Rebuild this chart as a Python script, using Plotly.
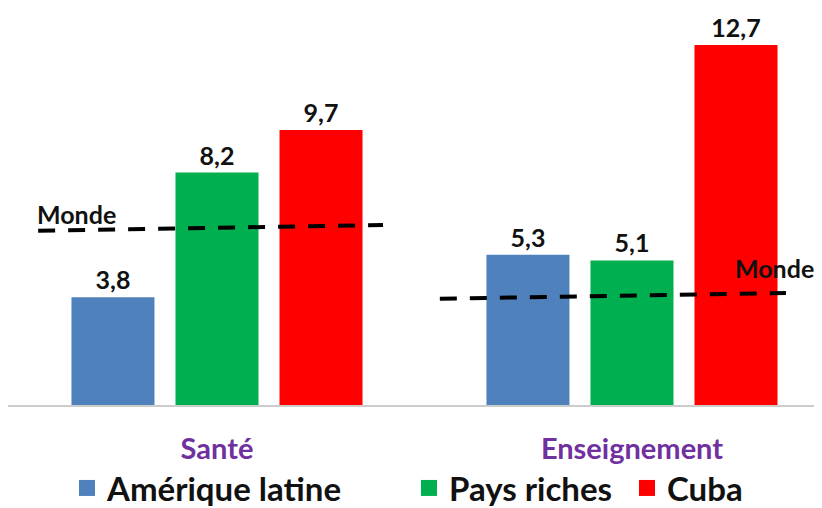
import plotly.graph_objects as go

categories = ["Santé", "Enseignement"]
series_names = ["Amérique latine", "Pays riches", "Cuba"]
amerique_latine = [3.8, 5.3]
pays_riches = [8.2, 5.1]
cuba = [9.7, 12.7]
# "Monde" reference lines (hand-drawn, slightly sloped): start / end values
monde_start = [6.15, 3.75]
monde_end = [6.35, 3.95]
monde_label = "Monde"

colors = ["#4F81BD", "#00B050", "#FF0000"]
FONT = "Lato"

def fr(v):
    return f"{v:.1f}".replace(".", ",")

fig = go.Figure()
xs = list(range(len(categories)))
legend_ids = ["legend", "legend2", "legend3"]
legend_x = [67, 409, 627]
for name, vals, col, lid in zip(series_names, [amerique_latine, pays_riches, cuba], colors, legend_ids):
    fig.add_trace(go.Bar(
        x=xs, y=vals, name=name, marker=dict(color=col, line=dict(width=0)),
        text=[fr(v) for v in vals], textposition="outside",
        textfont=dict(family=FONT, size=25, color="#111111", weight="bold"),
        cliponaxis=False, showlegend=False,
    ))
    fig.add_trace(go.Scatter(
        x=[None], y=[None], mode="markers", name=name, legend=lid,
        marker=dict(symbol="square", size=18, color=col),
    ))

# Monde dashed lines
half_left = [0.431, 0.463]
half_right = [0.400, 0.371]
for i in xs:
    fig.add_trace(go.Scatter(
        x=[i - half_left[i], i + half_right[i]], y=[monde_start[i], monde_end[i]],
        mode="lines", line=dict(color="black", width=4, dash="17px,13px"),
        showlegend=False, hoverinfo="skip",
    ))

fig.add_annotation(x=-0.4386, y=6.74, text=monde_label, showarrow=False, xanchor="left",
                   yanchor="middle", font=dict(family=FONT, size=25, color="#111111", weight="bold"))
fig.add_annotation(x=1.2434, y=4.83, text=monde_label, showarrow=False, xanchor="left",
                   yanchor="middle", font=dict(family=FONT, size=25, color="#111111", weight="bold"))

W, H = 822, 508
legend_common = dict(
    orientation="h", xref="container", yref="container", yanchor="middle", xanchor="left",
    y=20 / H, font=dict(family=FONT, size=33, color="#111111", weight="bold"),
    itemwidth=30, bgcolor="rgba(0,0,0,0)",
)
fig.update_layout(
    width=W, height=H,
    margin=dict(l=8, r=8, t=0, b=103),
    paper_bgcolor="white", plot_bgcolor="white",
    barmode="group", bargap=0.248, bargroupgap=0.202,
    xaxis=dict(
        tickmode="array", tickvals=xs, ticktext=categories,
        range=[-0.5036, 1.4386], showgrid=False, zeroline=False, automargin=False,
        showline=True, linecolor="#cccccc", linewidth=2, ticks="",
        tickfont=dict(family=FONT, size=29, color="#7030A0", weight="bold"),
        ticklabelstandoff=17,
    ),
    yaxis=dict(range=[0, 14.29], visible=False, showgrid=False, zeroline=False, automargin=False),
    legend=dict(x=legend_x[0] / W, **legend_common),
    legend2=dict(x=legend_x[1] / W, **legend_common),
    legend3=dict(x=legend_x[2] / W, **legend_common),
    showlegend=True,
)

fig.write_html("out.html", config={"displayModeBar": False},
               post_script="document.body.style.margin='0';")
